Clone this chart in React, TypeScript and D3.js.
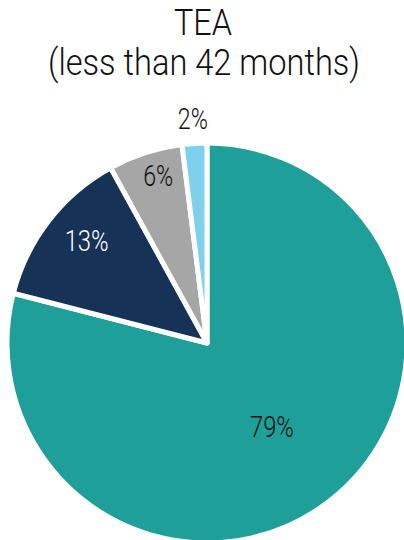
import React from "react";
import * as d3 from "d3";

const categories = ["A", "B", "C", "D"];
const values = [79, 13, 6, 2];
const labels = ["79%", "13%", "6%", "2%"];
const colors = ["#1f9f9a", "#163257", "#a6a6a6", "#7fd0ec"];
const labelColors = ["#111111", "#ffffff", "#111111", "#111111"];
const labelRadiusFrac = [0.53, 0.79, 0.87, 1.125];
const labelAngleShift = [0, 0.045, 0.03, 0];
const titleLines = ["TEA", "(less than 42 months)"];

export default function App() {
  const W = 404, H = 540;
  const cx = 207, cy = 343, R = 200;
  const pie = d3.pie<number>().sort(null).value((d) => d)(values);
  const arc = d3.arc<d3.PieArcDatum<number>>().innerRadius(0).outerRadius(R);
  const font = "Roboto, 'Noto Sans', sans-serif";
  return (
    <svg width={W} height={H} style={{ position: "absolute", left: 0, top: 0 }}>
      <text x={203} y={35} textAnchor="middle" fontFamily={font} fontWeight={300} fontSize={37} fill="#111" textLength={58} lengthAdjust="spacingAndGlyphs">{titleLines[0]}</text>
      <text x={204} y={75} textAnchor="middle" fontFamily={font} fontWeight={300} fontSize={37} fill="#111" textLength={312} lengthAdjust="spacingAndGlyphs">{titleLines[1]}</text>
      <g transform={`translate(${cx},${cy})`}>
        {pie.map((p, i) => (
          <path key={categories[i]} d={arc(p) || ""} fill={colors[i]} stroke="#fff" strokeWidth={5} strokeLinejoin="round" />
        ))}
        {pie.map((p, i) => {
          const a = (p.startAngle + p.endAngle) / 2 + labelAngleShift[i];
          const r = R * labelRadiusFrac[i];
          const x = Math.sin(a) * r;
          const y = -Math.cos(a) * r;
          const w = labels[i].length === 3 ? 44 : 30;
          return (
            <text key={"l" + i} x={x} y={y} dy="0.36em" textAnchor="middle" fontFamily={font} fontWeight={300} fontSize={29} fill={labelColors[i]} textLength={w} lengthAdjust="spacingAndGlyphs">{labels[i]}</text>
          );
        })}
      </g>
    </svg>
  );
}
